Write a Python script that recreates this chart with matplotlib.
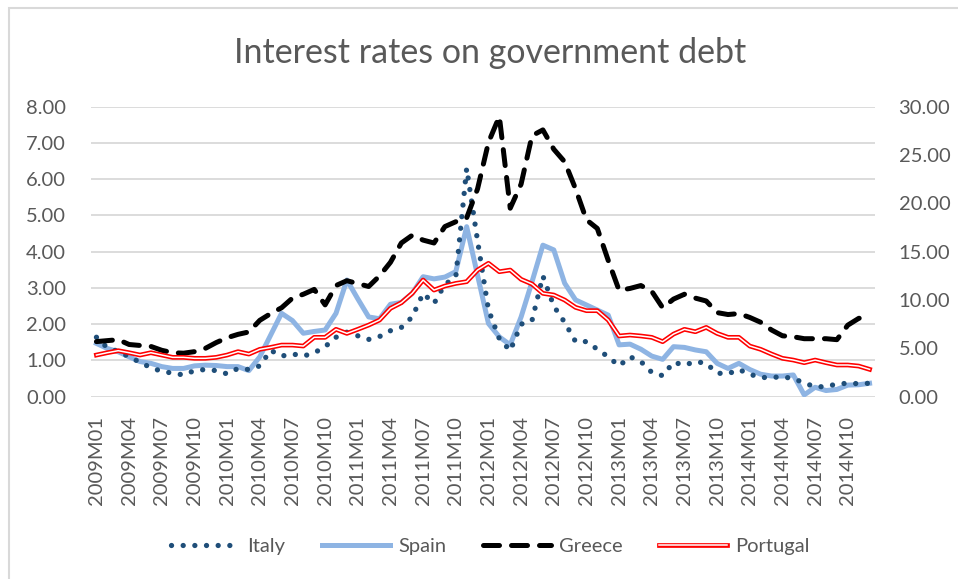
import numpy as np
import matplotlib
matplotlib.use("Agg")
from matplotlib import pyplot as plt
from matplotlib.patches import Rectangle
from matplotlib.legend_handler import HandlerTuple
from matplotlib.ticker import FormatStrFormatter

# monthly data, 2009M01 .. 2014M12
months = [str(y) + "M" + "%02d" % m for y in range(2009, 2015) for m in range(1, 13)]

# left axis
italy = [1.64, 1.35, 1.25, 1.10, 0.95, 0.80, 0.70, 0.65, 0.60, 0.72,
         0.75, 0.72, 0.63, 0.78, 0.75, 0.85, 1.28, 1.12, 1.18, 1.12,
         1.21, 1.38, 1.64, 1.78, 1.68, 1.58, 1.66, 1.82, 1.91, 2.20,
         2.85, 2.57, 3.10, 3.30, 6.30, 4.30, 2.40, 1.60, 1.27, 2.00,
         2.10, 3.33, 2.50, 2.05, 1.52, 1.52, 1.31, 1.10, 0.85, 1.10,
         0.97, 0.67, 0.58, 0.95, 0.87, 0.97, 0.92, 0.65, 0.63, 0.75,
         0.62, 0.53, 0.53, 0.55, 0.50, 0.38, 0.27, 0.28, 0.35, 0.37,
         0.36, 0.37]
spain = [1.47, 1.33, 1.24, 1.10, 0.97, 0.92, 0.83, 0.78, 0.78, 0.85,
         0.87, 0.86, 0.83, 0.83, 0.72, 1.10, 1.70, 2.30, 2.10, 1.75,
         1.80, 1.84, 2.30, 3.22, 2.70, 2.20, 2.15, 2.55, 2.60, 2.85,
         3.31, 3.25, 3.30, 3.45, 4.69, 3.35, 2.02, 1.65, 1.43, 2.20,
         3.17, 4.18, 4.05, 3.13, 2.67, 2.53, 2.39, 2.25, 1.43, 1.45,
         1.31, 1.12, 1.03, 1.38, 1.36, 1.29, 1.24, 0.92, 0.78, 0.92,
         0.75, 0.62, 0.57, 0.57, 0.60, 0.05, 0.26, 0.17, 0.20, 0.32,
         0.33, 0.37]
# right axis
greece = [5.7, 5.8, 5.9, 5.4, 5.3, 5.2, 4.8, 4.55, 4.5, 4.66,
          5.0, 5.6, 6.1, 6.45, 6.7, 7.9, 8.6, 9.2, 10.2, 10.6,
          11.1, 9.5, 11.5, 12.0, 11.7, 11.4, 12.5, 13.9, 15.9, 16.7,
          16.2, 15.9, 17.6, 18.1, 18.5, 21.5, 26.3, 29.0, 19.5, 22.0,
          27.0, 27.6, 25.6, 24.3, 21.5, 18.3, 17.4, 14.1, 11.0, 11.2,
          11.5, 10.9, 9.2, 10.1, 10.6, 10.2, 9.9, 8.7, 8.5, 8.6,
          8.2, 7.7, 6.9, 6.3, 6.2, 6.0, 6.0, 6.0, 5.9, 7.4,
          8.1, 8.4]
portugal = [4.31, 4.55, 4.76, 4.55, 4.31, 4.55, 4.31, 4.07, 4.07, 3.97,
            3.97, 4.07, 4.31, 4.66, 4.41, 4.90, 5.10, 5.34, 5.34, 5.24,
            6.14, 6.14, 6.97, 6.55, 6.97, 7.41, 7.93, 9.14, 9.72, 10.70,
            12.07, 11.03, 11.45, 11.72, 11.90, 13.10, 13.80, 12.93, 13.10, 12.14,
            11.66, 10.69, 10.52, 10.00, 9.24, 8.90, 8.90, 7.93, 6.28, 6.38,
            6.28, 6.14, 5.69, 6.48, 6.97, 6.72, 7.17, 6.55, 6.14, 6.14,
            5.24, 4.90, 4.41, 3.97, 3.79, 3.52, 3.79, 3.52, 3.28, 3.28,
            3.17, 2.83]

grey = '#595959'
plt.rcParams['font.family'] = ['Lato', 'DejaVu Sans']

fig = plt.figure(figsize=(9.58, 5.79), dpi=100)
fig.patches.append(Rectangle((9 / 958., -0.05), 1.0, 1.05 - 7.5 / 579.,
                             transform=fig.transFigure, fill=False,
                             ec='#D9D9D9', lw=1.5))

ax = fig.add_axes([91 / 958., 1 - 396.7 / 579., (875 - 91) / 958., 290 / 579.])
ax2 = ax.twinx()

x = np.arange(len(months))
l_sp, = ax.plot(x, spain, color='#8EB4E3', lw=3.6, solid_joinstyle='round', zorder=3)
l_it, = ax.plot(x, italy, color='#1F4E79', lw=3.8, dash_capstyle='round',
                linestyle=(0, (0.01, 2.2)), zorder=4)
l_gr, = ax2.plot(x, greece, color='black', lw=3.6, dash_capstyle='round',
                 linestyle=(0, (3.2, 2.4)), zorder=3)
l_pt, = ax2.plot(x, portugal, color='#FF0000', lw=3.4, zorder=4)
l_pt2, = ax2.plot(x, portugal, color='white', lw=1.1, zorder=5)

ax.set_xlim(-0.5, len(months) - 0.5)
ax.set_ylim(0, 8)
ax2.set_ylim(0, 30)
ax.set_yticks(np.arange(0, 8.01, 1))
ax2.set_yticks(np.arange(0, 30.01, 5))
ax.yaxis.set_major_formatter(FormatStrFormatter('%.2f'))
ax2.yaxis.set_major_formatter(FormatStrFormatter('%.2f'))
ax.set_xticks(x[::3])
ax.set_xticklabels(months[::3], rotation=90)

ax.yaxis.grid(True, color='#D9D9D9', lw=1.3)
ax.set_axisbelow(True)
for a in (ax, ax2):
    for s in a.spines.values():
        s.set_visible(False)
    a.tick_params(length=0, labelsize=14.5, labelcolor=grey)
ax.tick_params(axis='y', pad=18)
ax2.tick_params(axis='y', pad=17)
ax.tick_params(axis='x', pad=14)

fig.text(0.5115, 1 - 53 / 579., 'Interest rates on government debt',
         ha='center', va='center', fontsize=24.5, color=grey)

leg = fig.legend([l_it, l_sp, l_gr, (l_pt, l_pt2)],
                 ['Italy', 'Spain', 'Greece', 'Portugal'],
                 handler_map={tuple: HandlerTuple(ndivide=1)},
                 loc='center', bbox_to_anchor=(0.512, 1 - 546 / 579.),
                 ncol=4, frameon=False, fontsize=14.5, handlelength=3.4,
                 columnspacing=1.8, handletextpad=0.4)
for t in leg.get_texts():
    t.set_color(grey)

plt.savefig("out.png", dpi=100)
